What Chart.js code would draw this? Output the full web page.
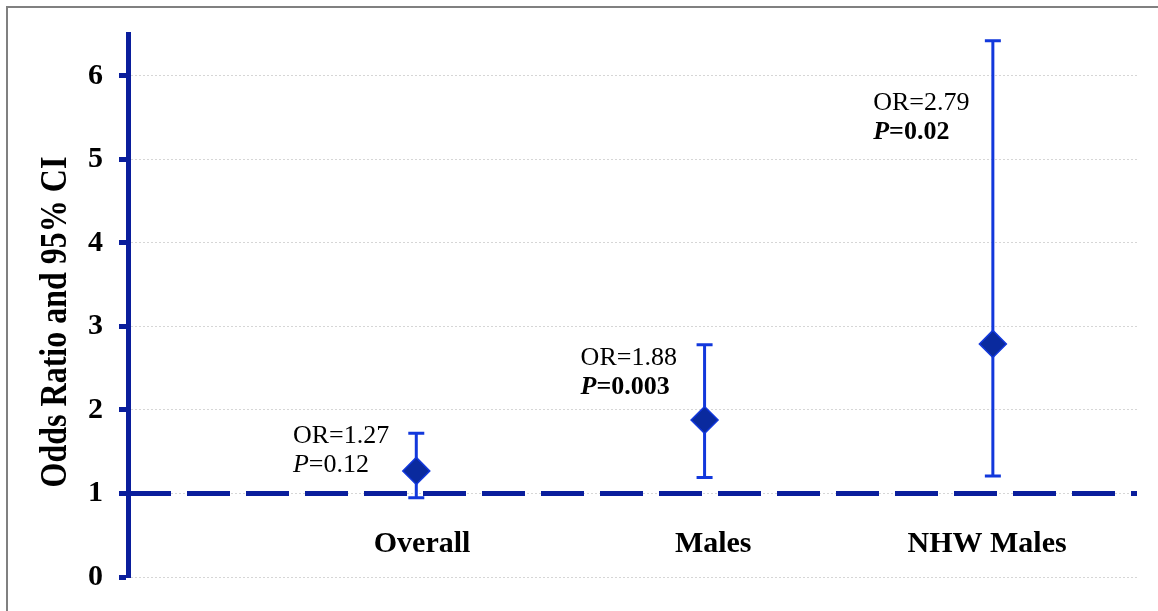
<!DOCTYPE html>
<html><head><meta charset="utf-8">
<script src="https://cdn.jsdelivr.net/npm/chart.js@4/dist/chart.umd.min.js"></script>
<style>html,body{margin:0;padding:0;background:#fff}#wrap{width:1158px;height:611px;position:relative}</style>
</head><body><div id="wrap"><canvas id="c" width="1158" height="611"></canvas></div>
<script>
// ---- data ----
const categories = ['Overall', 'Males', 'NHW Males'];
const categoryX = [1, 2, 3];
const oddsRatio = [1.27, 1.88, 2.79];
const ciLower = [0.95, 1.19, 1.21];
const ciUpper = [1.72, 2.78, 6.42];
const orLabels = ['OR=1.27', 'OR=1.88', 'OR=2.79'];
const pValues = ['0.12', '0.003', '0.02'];
const pSignificant = [false, true, true];
const yTicks = [0, 1, 2, 3, 4, 5, 6];
const referenceOR = 1;
const yTitle = 'Odds Ratio and 95% CI';
// annotation anchors in data units (left edge, first baseline)
const annX = [0.572, 1.570, 2.585];
const annY = [1.604, 2.543, 5.594];
const catLabelX = [1.02, 2.03, 2.98];
const catLabelY = 0.297;

const NAVY = '#0a1e9c';
const BLUE = '#1238dc';
const SERIF = '"Liberation Serif", "Times New Roman", serif';

const overlay = {
  id: 'overlay',
  beforeDraw(chart) {
    const ctx = chart.ctx;
    ctx.save();
    ctx.strokeStyle = '#808080';
    ctx.lineWidth = 2;
    ctx.beginPath();
    ctx.moveTo(7, 611); ctx.lineTo(7, 7); ctx.lineTo(1158, 7);
    ctx.stroke();
    ctx.restore();
  },
  afterDatasetDraw(chart, args) {
    if (args.index !== 1) return;
    const ctx = chart.ctx, xs = chart.scales.x, ys = chart.scales.y;
    ctx.save();
    ctx.strokeStyle = BLUE;
    ctx.lineWidth = 3;
    for (let i = 0; i < categories.length; i++) {
      const x = xs.getPixelForValue(categoryX[i]);
      const yl = ys.getPixelForValue(ciLower[i]);
      const yu = ys.getPixelForValue(ciUpper[i]);
      ctx.beginPath();
      ctx.moveTo(x, yl); ctx.lineTo(x, yu);
      ctx.moveTo(x - 8, yl); ctx.lineTo(x + 8, yl);
      ctx.moveTo(x - 8, yu); ctx.lineTo(x + 8, yu);
      ctx.stroke();
    }
    ctx.restore();
  },
  afterDraw(chart) {
    const ctx = chart.ctx, xs = chart.scales.x, ys = chart.scales.y;
    ctx.save();
    ctx.fillStyle = '#000';
    // y title
    ctx.save();
    ctx.translate(66, 322);
    ctx.rotate(-Math.PI / 2);
    ctx.scale(1, 1.16);
    ctx.font = 'bold 32px ' + SERIF;
    ctx.textAlign = 'center';
    ctx.textBaseline = 'alphabetic';
    ctx.fillText(yTitle, 0, 0);
    ctx.restore();
    // category labels
    ctx.font = 'bold 30px ' + SERIF;
    ctx.textAlign = 'center';
    ctx.textBaseline = 'alphabetic';
    for (let i = 0; i < categories.length; i++) {
      ctx.fillText(categories[i], xs.getPixelForValue(catLabelX[i]), ys.getPixelForValue(catLabelY));
    }
    // annotations
    ctx.textAlign = 'left';
    for (let i = 0; i < categories.length; i++) {
      const x = xs.getPixelForValue(annX[i]);
      const y = ys.getPixelForValue(annY[i]);
      ctx.font = '26px ' + SERIF;
      ctx.fillText(orLabels[i], x, y);
      const w = pSignificant[i] ? 'bold ' : '';
      ctx.font = 'italic ' + w + '26px ' + SERIF;
      ctx.fillText('P', x, y + 29);
      const pw = ctx.measureText('P').width;
      ctx.font = w + '26px ' + SERIF;
      ctx.fillText('=' + pValues[i], x + pw, y + 29);
    }
    ctx.restore();
  }
};

new Chart(document.getElementById('c'), {
  data: {
    datasets: [
      {
        type: 'scatter',
        data: categoryX.map((x, i) => ({ x: x, y: oddsRatio[i] })),
        pointStyle: 'rectRot',
        pointRadius: 13.5,
        pointHoverRadius: 13.5,
        backgroundColor: '#0a2a9e',
        borderColor: BLUE,
        borderWidth: 1.5,
        order: 0,
        clip: false
      },
      {
        type: 'line',
        data: [{ x: 0, y: referenceOR }, { x: 3.5, y: referenceOR }],
        borderColor: NAVY,
        borderWidth: 5,
        borderDash: [43, 16],
        pointRadius: 0,
        fill: false,
        order: 1,
        clip: false
      }
    ]
  },
  options: {
    responsive: false,
    devicePixelRatio: 1,
    animation: false,
    layout: { padding: { top: 33, right: 21, bottom: 31, left: 0 } },
    plugins: { legend: { display: false }, tooltip: { enabled: false } },
    scales: {
      x: { type: 'linear', min: 0, max: 3.5, display: false },
      y: {
        type: 'linear', min: 0, max: 6.5,
        afterFit: s => { s.width = 128; },
        afterBuildTicks: s => { s.ticks = yTicks.map(v => ({ value: v })); },
        ticks: { color: '#000', padding: 16, font: { family: SERIF, size: 30, weight: 'bold' } },
        grid: { color: '#d6d6d6', lineWidth: 1, tickColor: NAVY, tickLength: 9, tickWidth: 5 },
        border: { color: NAVY, width: 5, dash: [2, 2] }
      }
    }
  },
  plugins: [overlay]
});
</script>
</body></html>
